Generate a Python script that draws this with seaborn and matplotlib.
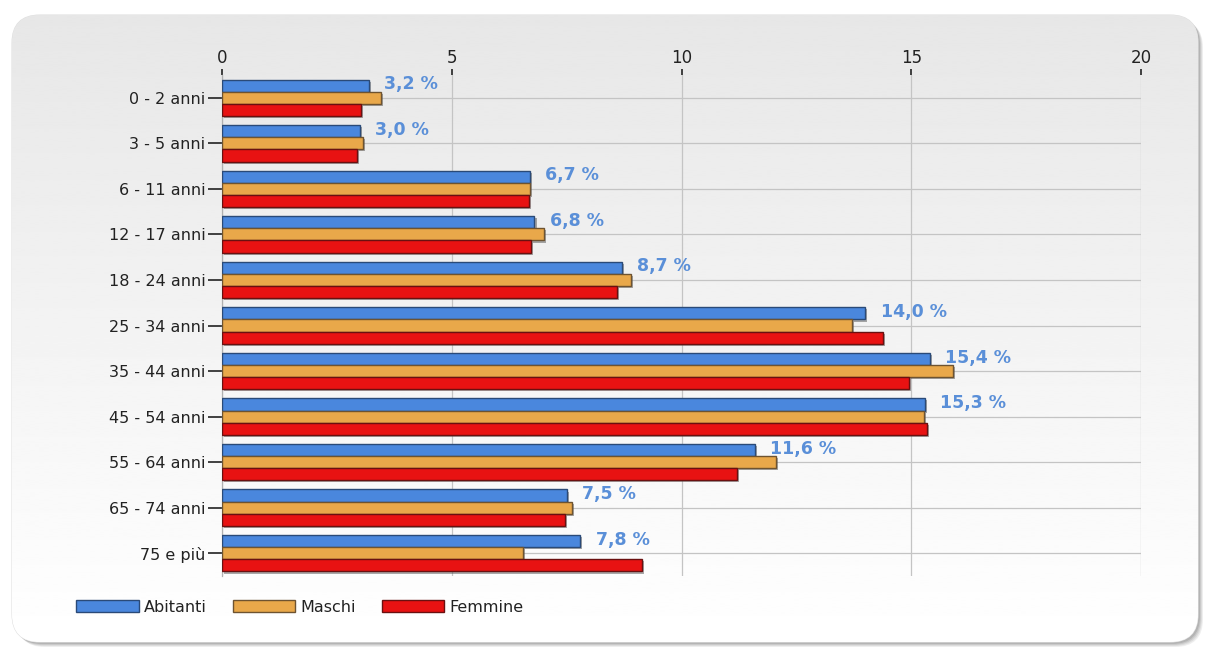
import numpy as np
import pandas as pd
import matplotlib
matplotlib.use("Agg")
import matplotlib.pyplot as plt
import matplotlib.patheffects as pe
from matplotlib.patches import FancyBboxPatch, Patch
import seaborn as sns

# ---------------- data ----------------
categories = ["0 - 2 anni", "3 - 5 anni", "6 - 11 anni", "12 - 17 anni", "18 - 24 anni",
              "25 - 34 anni", "35 - 44 anni", "45 - 54 anni", "55 - 64 anni",
              "65 - 74 anni", "75 e più"]
abitanti = [3.2, 3.0, 6.7, 6.8, 8.7, 14.0, 15.4, 15.3, 11.6, 7.5, 7.8]
maschi   = [3.45, 3.07, 6.7, 7.0, 8.9, 13.7, 15.9, 15.27, 12.06, 7.62, 6.55]
femmine  = [3.02, 2.94, 6.68, 6.72, 8.6, 14.38, 14.95, 15.34, 11.2, 7.47, 9.14]
series_names = ["Abitanti", "Maschi", "Femmine"]
x_ticks = [0, 5, 10, 15, 20]

df = pd.DataFrame({"Fascia": categories, "Abitanti": abitanti,
                   "Maschi": maschi, "Femmine": femmine})
long = df.melt(id_vars="Fascia", var_name="Serie", value_name="Valore")

colors = {"Abitanti": "#4a87dd", "Maschi": "#e9a84a", "Femmine": "#e81212"}
edges = {"Abitanti": "#2a4a78", "Maschi": "#6e5330", "Femmine": "#6a1010"}

sns.set_theme(style="white")
plt.rcParams["font.family"] = ["DejaVu Sans"]

W, H = 1206, 651
fig = plt.figure(figsize=(W / 100, H / 100), dpi=100)
fig.patch.set_facecolor("white")

# ---------------- background panel ----------------
bg = fig.add_axes([0, 0, 1, 1], zorder=-5)
bg.set_xlim(0, W)
bg.set_ylim(H, 0)
bg.axis("off")
px0, py0, px1, py1 = 12, 15, 1198, 642
for i, a in enumerate([0.10, 0.12, 0.15, 0.2]):
    off = 5 - i
    sh = FancyBboxPatch((px0 + off, py0 + off), px1 - px0, py1 - py0,
                        boxstyle="round,pad=0,rounding_size=28",
                        facecolor="#606060", edgecolor="none", alpha=a)
    bg.add_patch(sh)
panel = FancyBboxPatch((px0, py0), px1 - px0, py1 - py0,
                       boxstyle="round,pad=0,rounding_size=28",
                       facecolor="white", edgecolor="#e0e0e0", linewidth=0.8)
bg.add_patch(panel)
grad = np.linspace(0.905, 1.0, 256).reshape(-1, 1)
im = bg.imshow(grad, cmap="gray", vmin=0, vmax=1, aspect="auto",
               extent=[px0, px1, py1, py0], interpolation="bilinear", zorder=1)
im.set_clip_path(panel)

# ---------------- main axes ----------------
left, right, top, bottom = 222, 1141, 75, 576
ax = fig.add_axes([left / W, 1 - bottom / H, (right - left) / W, (bottom - top) / H])
ax.set_facecolor("none")

sns.barplot(data=long, y="Fascia", x="Valore", hue="Serie", orient="h",
            palette=colors, saturation=1, width=0.8, ax=ax, legend=False, zorder=3)

for cont, name in zip(ax.containers, series_names):
    for p in cont:
        p.set_edgecolor(edges[name])
        p.set_linewidth(1.0)
        p.set_path_effects([pe.SimplePatchShadow(offset=(1.5, -1.5), shadow_rgbFace="#555555", alpha=0.5),
                            pe.Normal()])

ax.set_xlim(0, 20)
ax.set_ylim(len(categories) - 0.5, -0.5)
ax.set_xticks(x_ticks)
ax.set_xticklabels([str(t) for t in x_ticks])
ax.xaxis.tick_top()
ax.set_xlabel("")
ax.set_ylabel("")
ax.set_axisbelow(True)
ax.grid(axis="both", color="#c4c4c4", linewidth=0.9)
for s in ["top", "right", "bottom"]:
    ax.spines[s].set_visible(False)
ax.spines["left"].set_color("#b0b0b0")
ax.spines["left"].set_linewidth(0.9)
ax.tick_params(axis="x", top=True, length=4, width=1.2, color="#222222",
               labelsize=12, labelcolor="#222222", pad=2)
ax.tick_params(axis="y", left=True, length=10, width=1.2, color="#222222",
               labelsize=11.5, labelcolor="#222222", pad=2)

# value labels for Abitanti
for p, v in zip(ax.containers[0], abitanti):
    txt = f"{v:.1f}".replace(".", ",") + " %"
    ax.annotate(txt, xy=(p.get_width(), p.get_y() + p.get_height() / 2),
                xytext=(11, 1), textcoords="offset points", va="center", ha="left",
                fontsize=12.5, fontweight="bold", color="#5a8fd8", zorder=5)

# legend
handles = [Patch(facecolor=colors[n], edgecolor=edges[n], linewidth=1.0) for n in series_names]
leg = fig.legend(handles, series_names, loc="center left",
                 bbox_to_anchor=(62 / W, 1 - 607 / H), ncol=3, frameon=False,
                 fontsize=11.5, handlelength=3.9, handleheight=0.85,
                 handletextpad=0.35, columnspacing=1.6)
for t in leg.get_texts():
    t.set_color("#222222")

fig.savefig("out.png", dpi=100)
